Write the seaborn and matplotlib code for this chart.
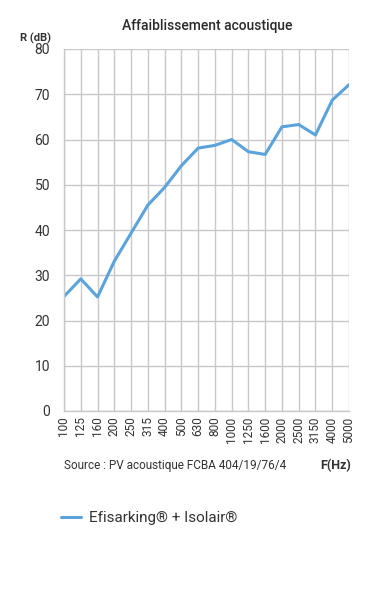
import matplotlib
matplotlib.use("Agg")
import matplotlib.pyplot as plt
import seaborn as sns
import pandas as pd
from matplotlib import font_manager

freqs = ["100", "125", "160", "200", "250", "315", "400", "500", "630", "800",
         "1000", "1250", "1600", "2000", "2500", "3150", "4000", "5000"]
values = [25.3, 29.2, 25.2, 33.1, 39.3, 45.5, 49.4, 54.2, 58.1, 58.7,
          60.0, 57.3, 56.7, 62.8, 63.3, 61.0, 68.7, 72.1]
series_name = "Efisarking® + Isolair®"

sns.set_theme(style="white")
names = {f.name for f in font_manager.fontManager.ttflist}
fam = "Liberation Sans Narrow" if "Liberation Sans Narrow" in names else "Roboto"
plt.rcParams["font.family"] = [fam, "DejaVu Sans"]

df = pd.DataFrame({"F": list(range(len(freqs))), "R": values})

fig = plt.figure(figsize=(3.78, 6.0), dpi=100)
ax = fig.add_axes([64 / 378, 1 - 411 / 600, (349 - 64) / 378, (411 - 49) / 600])

sns.lineplot(data=df, x="F", y="R", ax=ax, color="#5ba3dc", linewidth=2.2, label=series_name, legend=False)

ax.set_xlim(0, len(freqs) - 1)
ax.set_ylim(0, 80)
ax.set_xticks(range(len(freqs)))
ax.set_xticklabels(freqs, rotation=90, fontsize=8.5, color="#333333")
ax.set_yticks(range(0, 81, 10))
ax.set_yticklabels([str(v) for v in range(0, 81, 10)], fontsize=10, color="#333333")
ax.tick_params(axis="both", length=0, pad=4)
ax.tick_params(axis="y", pad=10)
ax.grid(True, color="#c8c8c8", linewidth=1)
ax.set_axisbelow(True)
for s in ["top", "right"]:
    ax.spines[s].set_visible(False)
for s in ["left", "bottom"]:
    ax.spines[s].set_color("#c8c8c8")
    ax.spines[s].set_linewidth(1)
ax.set_xlabel("")
ax.set_ylabel("")

fig.text(207 / 378, 1 - 26 / 600, "Affaiblissement acoustique", ha="center", va="center",
         fontsize=10, fontweight="medium", color="#2b2b2b")
fig.text(36 / 378, 1 - 38 / 600, "R (dB)", ha="center", va="center", fontsize=8,
         fontweight="bold", color="#333333")
fig.text(64 / 378, 1 - 466 / 600, "Source : PV acoustique FCBA 404/19/76/4", ha="left", va="center",
         fontsize=8.5, color="#333333")
fig.text(351 / 378, 1 - 466 / 600, "F(Hz)", ha="right", va="center", fontsize=9,
         fontweight="bold", color="#333333")

h, l = ax.get_legend_handles_labels()
leg = fig.legend(h, l, loc="center left", bbox_to_anchor=(55 / 378, 1 - 518 / 600), frameon=False,
                 fontsize=11, handlelength=1.3, handletextpad=0.5, labelcolor="#333333",
                 borderaxespad=0, borderpad=0.4)

fig.savefig("out.png", dpi=100, facecolor="white")
